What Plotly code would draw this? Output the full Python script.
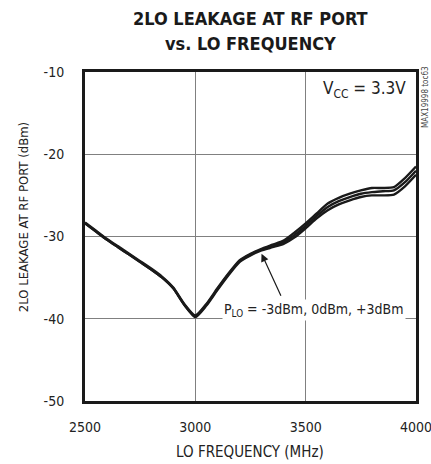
import plotly.graph_objects as go

freq = [2500, 2550, 2600, 2650, 2700, 2750, 2800, 2850, 2900, 2950, 3000, 3050, 3100,
        3150, 3200, 3250, 3300, 3350, 3400, 3450, 3500, 3550, 3600, 3650, 3700, 3750,
        3800, 3850, 3900, 3950, 4000]
p_m3 = [-28.4, -29.4, -30.4, -31.3, -32.2, -33.1, -34.0, -35.0, -36.3, -38.3, -39.8, -38.4,
        -36.5, -34.7, -33.1, -32.3, -31.7, -31.3, -30.9, -30.1, -29.0, -27.8, -26.8, -26.1,
        -25.6, -25.2, -25.0, -25.0, -24.9, -23.9, -22.5]
p_0 = [-28.4, -29.4, -30.4, -31.3, -32.2, -33.1, -34.0, -35.0, -36.3, -38.3, -39.7, -38.3,
       -36.4, -34.6, -33.0, -32.2, -31.6, -31.2, -30.7, -29.8, -28.7, -27.5, -26.4, -25.7,
       -25.2, -24.8, -24.6, -24.5, -24.4, -23.4, -22.0]
p_p3 = [-28.3, -29.3, -30.3, -31.2, -32.1, -33.0, -33.9, -34.9, -36.2, -38.2, -39.6, -38.2,
        -36.3, -34.5, -32.9, -32.1, -31.5, -31.0, -30.5, -29.5, -28.4, -27.2, -26.0, -25.3,
        -24.8, -24.4, -24.1, -24.1, -24.0, -22.9, -21.5]

x_ticks = [2500, 3000, 3500, 4000]
x_labels = ["2500", "3000", "3500", "4000"]
y_ticks = [-50, -40, -30, -20, -10]
y_labels = ["-50", "-40", "-30", "-20", "-10"]

FONT = "DejaVu Sans Condensed, Liberation Sans, sans-serif"

fig = go.Figure()
for ys in (p_m3, p_0, p_p3):
    fig.add_trace(go.Scatter(x=freq, y=ys, mode="lines",
                             line=dict(color="#1a1a1a", width=2.4, shape="spline", smoothing=0.6),
                             showlegend=False, hoverinfo="skip"))

fig.update_layout(
    width=431, height=464,
    margin=dict(l=85, r=15, t=72, b=63),
    paper_bgcolor="white", plot_bgcolor="white",
    font=dict(family=FONT, size=15, color="#222"),
    xaxis=dict(range=[2500, 4000], tickvals=x_ticks, ticktext=x_labels, ticks="", showgrid=True,
               gridcolor="#808080", gridwidth=1.3, showline=True, linecolor="#1a1a1a",
               linewidth=3, mirror=True, zeroline=False, automargin=False,
               ticklabeloverflow="allow",
               tickfont=dict(size=14), ticklabelstandoff=11),
    yaxis=dict(range=[-50, -10], tickvals=y_ticks, ticktext=y_labels, ticks="", showgrid=True,
               gridcolor="#808080", gridwidth=1.3, showline=True, linecolor="#1a1a1a",
               linewidth=3, mirror=True, zeroline=False, automargin=False,
               ticklabeloverflow="allow",
               tickfont=dict(size=14), ticklabelstandoff=15),
)

# title
fig.add_annotation(text="<b>2LO LEAKAGE AT RF PORT</b>", xref="paper", yref="paper",
                   x=0.5, y=1.164, xanchor="center", yanchor="middle", showarrow=False,
                   font=dict(size=18, color="#1a1a1a"))
fig.add_annotation(text="<b>vs. LO FREQUENCY</b>", xref="paper", yref="paper",
                   x=0.5, y=1.088, xanchor="center", yanchor="middle", showarrow=False,
                   font=dict(size=18, color="#1a1a1a"))
# axis titles
fig.add_annotation(text="LO FREQUENCY (MHz)", xref="paper", yref="paper",
                   x=0.498, y=-0.155, xanchor="center", yanchor="middle", showarrow=False,
                   font=dict(size=15))
fig.add_annotation(text="2LO LEAKAGE AT RF PORT (dBm)", xref="paper", yref="paper",
                   x=-0.187, y=0.559, textangle=-90, showarrow=False,
                   xanchor="center", yanchor="middle", font=dict(size=13))
# labels
fig.add_annotation(text="V<sub>CC</sub> = 3.3V", xref="x", yref="y",
                   x=3965, y=-12.1, xanchor="right", yanchor="middle",
                   showarrow=False, font=dict(size=17))
fig.add_annotation(text="MAX19998 toc63", xref="paper", yref="paper",
                   x=1.027, y=0.924, textangle=-90, showarrow=False,
                   xanchor="center", yanchor="middle", font=dict(size=8, color="#444"))
fig.add_annotation(text="P<sub>LO</sub> = -3dBm, 0dBm, +3dBm", xref="x", yref="y",
                   x=3122, y=-38.9, xanchor="left", yanchor="middle",
                   showarrow=False, bgcolor="white", font=dict(size=14))
fig.add_annotation(x=3300, y=-32.1, ax=3391, ay=-37.4, xref="x", yref="y",
                   axref="x", ayref="y", text="", showarrow=True,
                   arrowhead=2, arrowsize=1.3, arrowwidth=1.2, arrowcolor="#1a1a1a")

fig.write_html("out.html", config={"displayModeBar": False},
               post_script="document.body.style.margin='0';")
